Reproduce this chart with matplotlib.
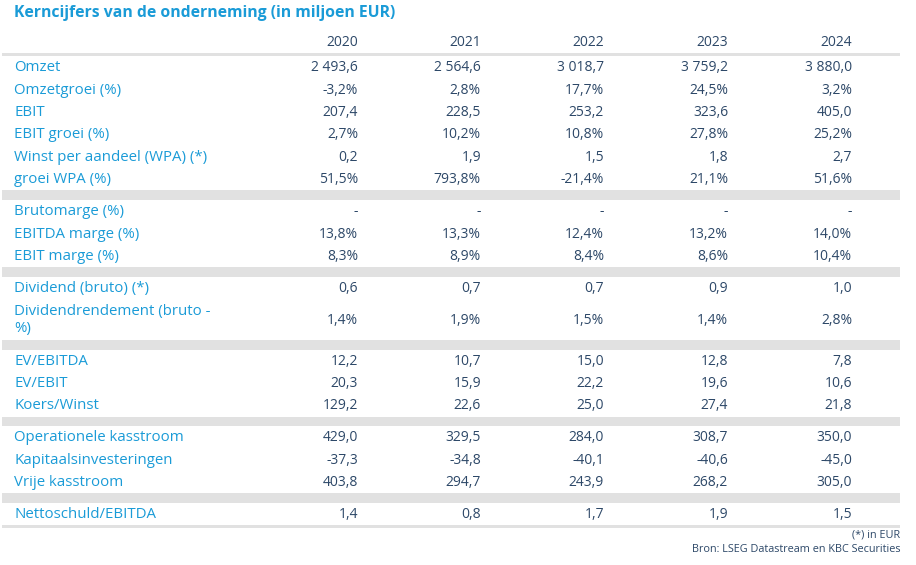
import matplotlib.pyplot as plt
from matplotlib.patches import Rectangle

years = ['2020', '2021', '2022', '2023', '2024']

omzet = [2493.6, 2564.6, 3018.7, 3759.2, 3880.0]
omzetgroei = [-3.2, 2.8, 17.7, 24.5, 3.2]
ebit = [207.4, 228.5, 253.2, 323.6, 405.0]
ebit_groei = [2.7, 10.2, 10.8, 27.8, 25.2]
wpa = [0.2, 1.9, 1.5, 1.8, 2.7]
wpa_groei = [51.5, 793.8, -21.4, 21.1, 51.6]
brutomarge = [None, None, None, None, None]
ebitda_marge = [13.8, 13.3, 12.4, 13.2, 14.0]
ebit_marge = [8.3, 8.9, 8.4, 8.6, 10.4]
dividend = [0.6, 0.7, 0.7, 0.9, 1.0]
div_rendement = [1.4, 1.9, 1.5, 1.4, 2.8]
ev_ebitda = [12.2, 10.7, 15.0, 12.8, 7.8]
ev_ebit = [20.3, 15.9, 22.2, 19.6, 10.6]
koers_winst = [129.2, 22.6, 25.0, 27.4, 21.8]
op_kasstroom = [429.0, 329.5, 284.0, 308.7, 350.0]
kap_invest = [-37.3, -34.8, -40.1, -40.6, -45.0]
vrije_kasstroom = [403.8, 294.7, 243.9, 268.2, 305.0]
nettoschuld_ebitda = [1.4, 0.8, 1.7, 1.9, 1.5]

# (label, values, percentage, lines)
sections = [
    [('Omzet', omzet, False, 1),
     ('Omzetgroei (%)', omzetgroei, True, 1),
     ('EBIT', ebit, False, 1),
     ('EBIT groei (%)', ebit_groei, True, 1),
     ('Winst per aandeel (WPA) (*)', wpa, False, 1),
     ('groei WPA (%)', wpa_groei, True, 1)],
    [('Brutomarge (%)', brutomarge, True, 1),
     ('EBITDA marge (%)', ebitda_marge, True, 1),
     ('EBIT marge (%)', ebit_marge, True, 1)],
    [('Dividend (bruto) (*)', dividend, False, 1),
     ('Dividendrendement (bruto -\n%)', div_rendement, True, 2)],
    [('EV/EBITDA', ev_ebitda, False, 1),
     ('EV/EBIT', ev_ebit, False, 1),
     ('Koers/Winst', koers_winst, False, 1)],
    [('Operationele kasstroom', op_kasstroom, False, 1),
     ('Kapitaalsinvesteringen', kap_invest, False, 1),
     ('Vrije kasstroom', vrije_kasstroom, False, 1)],
    [('Nettoschuld/EBITDA', nettoschuld_ebitda, False, 1)],
]


def fmt(v, pct):
    if v is None:
        return '-'
    s = f'{v:,.1f}'.replace(',', ' ').replace('.', ',')
    return s + '%' if pct else s


BLUE = '#1a9bd7'
NAVY = '#2d4868'
GRAY = '#e1e1e1'

plt.rcParams['font.family'] = ['Open Sans', 'DejaVu Sans']

fig = plt.figure(figsize=(9.16, 5.65), dpi=100)
ax = fig.add_axes([0, 0, 1, 1])
ax.set_xlim(0, 916)
ax.set_ylim(565, 0)
ax.axis('off')

col_x = [358, 481, 604, 728, 852]
label_x = 14

ax.text(label_x, 13, 'Kerncijfers van de onderneming (in miljoen EUR)', color=BLUE,
        fontsize=11.3, fontweight='bold', va='center', ha='left')

for x, yr in zip(col_x, years):
    ax.text(x, 43, yr, color=NAVY, fontsize=10, ha='right', va='center')
ax.add_patch(Rectangle((2, 53), 898, 3, color=GRAY, lw=0))

row_h = 22.4
band_h = 9.5
y = 56
for i, section in enumerate(sections):
    for label, vals, pct, lines in section:
        h = row_h if lines == 1 else 41
        yc = y + h / 2 + 0.5
        ax.text(label_x, yc, label, color=BLUE, fontsize=10.8, ha='left', va='center',
                linespacing=1.15)
        for x, v in zip(col_x, vals):
            ax.text(x, yc, fmt(v, pct), color=NAVY, fontsize=10, ha='right', va='center')
        y += h
    if i < len(sections) - 1:
        ax.add_patch(Rectangle((2, y), 898, band_h, color=GRAY, lw=0))
        y += band_h
ax.add_patch(Rectangle((2, y), 898, 2.5, color=GRAY, lw=0))

ax.text(900, 535, '(*) in EUR', color=NAVY, fontsize=7.8, ha='right', va='center')
ax.text(900, 549, 'Bron: LSEG Datastream en KBC Securities', color=NAVY, fontsize=7.8,
        ha='right', va='center')

fig.savefig('out.png', dpi=100)
